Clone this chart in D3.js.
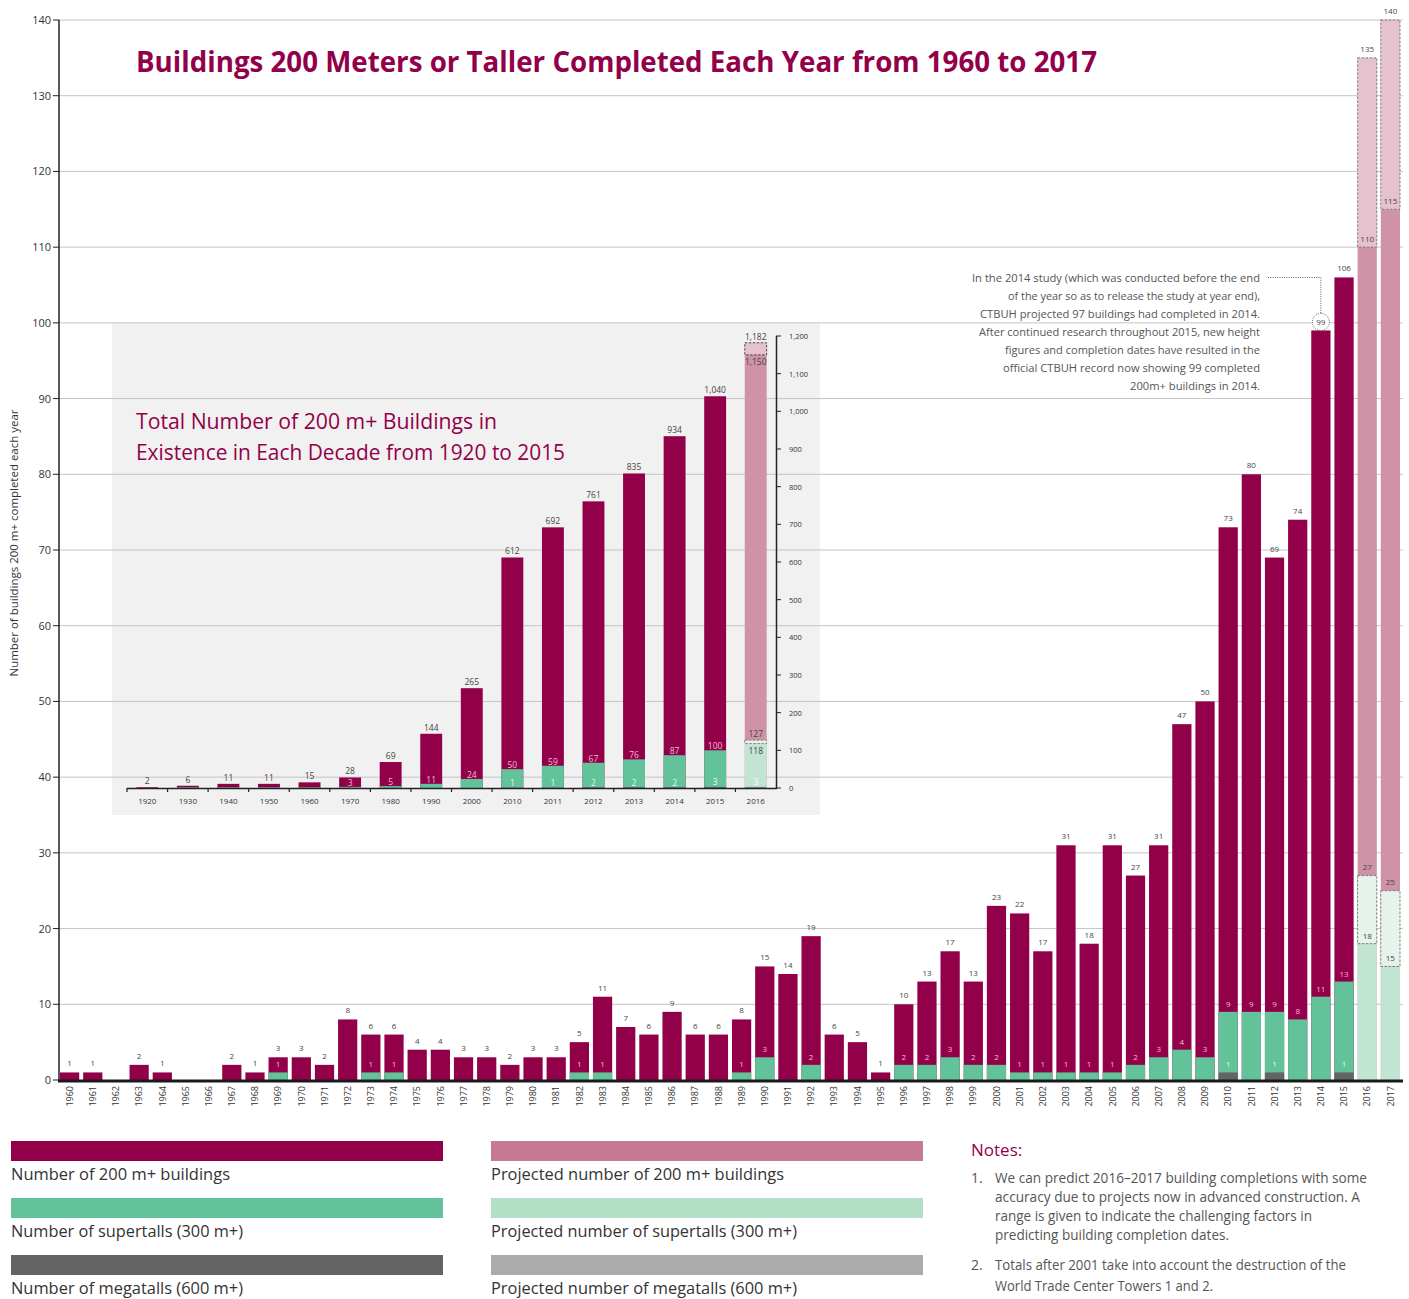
<!DOCTYPE html>
<html><head><meta charset="utf-8">
<script src="https://cdn.jsdelivr.net/npm/d3@7"></script>
<style>body{margin:0;background:#fff;} svg{display:block;font-family:"Open Sans",sans-serif;}</style>
</head><body>
<svg id="c" width="1409" height="1299"></svg>
<script>
// ---------- DATA ----------
const years = [1960,1961,1962,1963,1964,1965,1966,1967,1968,1969,1970,1971,1972,1973,1974,1975,1976,1977,1978,1979,
  1980,1981,1982,1983,1984,1985,1986,1987,1988,1989,1990,1991,1992,1993,1994,1995,1996,1997,1998,1999,
  2000,2001,2002,2003,2004,2005,2006,2007,2008,2009,2010,2011,2012,2013,2014,2015,2016,2017];
const totals = [1,1,0,2,1,0,0,2,1,3,3,2,8,6,6,4,4,3,3,2,
  3,3,5,11,7,6,9,6,6,8,15,14,19,6,5,1,10,13,17,13,
  23,22,17,31,18,31,27,31,47,50,73,80,69,74,99,106];
const supertalls = [0,0,0,0,0,0,0,0,0,1,0,0,0,1,1,0,0,0,0,0,
  0,0,1,1,0,0,0,0,0,1,3,0,2,0,0,0,2,2,3,2,
  2,1,1,1,1,1,2,3,4,3,9,9,9,8,11,13];
const megatalls = [0,0,0,0,0,0,0,0,0,0,0,0,0,0,0,0,0,0,0,0,
  0,0,0,0,0,0,0,0,0,0,0,0,0,0,0,0,0,0,0,0,
  0,0,0,0,0,0,0,0,0,0,1,0,1,0,0,1];
const projYears = [2016, 2017];
const projLow = [110, 115];
const projHigh = [135, 140];
const projSuperLow = [18, 15];
const projSuperHigh = [27, 25];
const yTicks = [0,10,20,30,40,50,60,70,80,90,100,110,120,130,140];

const decades = ["1920","1930","1940","1950","1960","1970","1980","1990","2000","2010","2011","2012","2013","2014","2015","2016"];
const decadeTotals = [2,6,11,11,15,28,69,144,265,612,692,761,835,934,1040,1150];
const decadeSuper = [0,2,2,2,2,3,5,11,24,50,59,67,76,87,100,118];
const decadeMega = [0,0,0,0,0,0,0,0,0,1,1,2,2,2,3,3];
const decadeSuperLabel = [false,false,false,false,false,true,true,true,true,true,true,true,true,true,true,true];
const insetProjHigh = 1182;
const insetProjSuperHigh = 127;
const insetTicks = [0,100,200,300,400,500,600,700,800,900,1000,1100,1200];

const legendItems = [
  ["Number of 200 m+ buildings", "#93004a", 219],
  ["Number of supertalls (300 m+)", "#62c39a", 232],
  ["Number of megatalls (600 m+)", "#636466", 232],
  ["Projected number of 200 m+ buildings", "#c77b92", 293],
  ["Projected number of supertalls (300 m+)", "#b3dfc7", 306],
  ["Projected number of megatalls (600 m+)", "#ababab", 306]
];
const noteLines = [
  ["1.", "We can predict 2016\u20132017 building completions with some", 372, 1183],
  ["", "accuracy due to projects now in advanced construction.  A", 365, 1202],
  ["", "range is given to indicate the challenging factors in", 317, 1221],
  ["", "predicting building completion dates.", 234, 1240],
  ["2.", "Totals after 2001 take into account the destruction of the", 351, 1270],
  ["", "World Trade Center Towers 1 and 2.", 218, 1291]
];
const annotLines = [
  ["In the 2014 study (which was conducted before the end", 288],
  ["of the year so as to release the study at year end),", 252],
  ["CTBUH projected 97 buildings had completed in 2014.", 280],
  ["After continued research throughout 2015, new height", 281],
  ["figures and completion dates have resulted in the", 255],
  ["official CTBUH record now showing 99 completed", 257],
  ["200m+ buildings in 2014.", 130]
];

// ---------- COLOURS ----------
const PURPLE = "#93004a", GREEN = "#62c39a", MEGA = "#636466";
const PINK = "#d092a6", PINK_BOX = "#e5c2cd", LGREEN = "#c2e5d3", LGREEN_BOX = "#e6f3eb";
const LBL = "#444";

const svg = d3.select("#c");

// ---------- SCALES ----------
const x = d3.scaleBand().domain(years).range([60, 1400]).paddingInner(0.17).paddingOuter(0);
const y = d3.scaleLinear().domain([0, 140]).range([1080, 20]);
const bw = x.bandwidth();

const xi = d3.scaleBand().domain(decades).range([127, 776]).paddingInner(0.46).paddingOuter(0.23);
const yi = d3.scaleLinear().domain([0, 1200]).range([788, 336]);
const bwi = xi.bandwidth();

// ---------- INSET BACKGROUND ----------
svg.append("rect").attr("x", 112).attr("y", 323).attr("width", 708).attr("height", 492).attr("fill", "#f1f1f1");

// ---------- GRIDLINES ----------
svg.append("g").selectAll("line").data(yTicks.filter(d => d > 0)).join("line")
  .attr("x1", 59).attr("x2", 1403).attr("y1", d => y(d)).attr("y2", d => y(d))
  .attr("stroke", "#c4c4c4").attr("stroke-width", 1);

// ---------- TITLE ----------
svg.append("text").attr("x", 136).attr("y", 72).attr("fill", PURPLE)
  .attr("font-size", 29).attr("font-weight", 700)
  .attr("textLength", 961).attr("lengthAdjust", "spacingAndGlyphs")
  .text("Buildings 200 Meters or Taller Completed Each Year from 1960 to 2017");

// ---------- MAIN BARS ----------
const actual = years.slice(0, totals.length).map((yr, i) => ({yr, t: totals[i], s: supertalls[i], m: megatalls[i]}));
const gMain = svg.append("g");
gMain.selectAll(".tot").data(actual.filter(d => d.t > 0)).join("rect")
  .attr("x", d => x(d.yr)).attr("width", bw)
  .attr("y", d => y(d.t)).attr("height", d => y(0) - y(d.t)).attr("fill", PURPLE);
gMain.selectAll(".sup").data(actual.filter(d => d.s > 0)).join("rect")
  .attr("x", d => x(d.yr)).attr("width", bw)
  .attr("y", d => y(d.s)).attr("height", d => y(0) - y(d.s)).attr("fill", GREEN);
gMain.selectAll(".meg").data(actual.filter(d => d.m > 0)).join("rect")
  .attr("x", d => x(d.yr)).attr("width", bw)
  .attr("y", d => y(d.m)).attr("height", d => y(0) - y(d.m)).attr("fill", MEGA);

// projected
const proj = projYears.map((yr, i) => ({yr, lo: projLow[i], hi: projHigh[i], slo: projSuperLow[i], shi: projSuperHigh[i]}));
proj.forEach(d => {
  const x0 = x(d.yr);
  gMain.append("rect").attr("x", x0).attr("width", bw).attr("y", y(d.lo)).attr("height", y(0) - y(d.lo)).attr("fill", PINK);
  gMain.append("rect").attr("x", x0).attr("width", bw).attr("y", y(d.hi)).attr("height", y(d.lo) - y(d.hi))
    .attr("fill", PINK_BOX).attr("stroke", "#666").attr("stroke-width", 0.8).attr("stroke-dasharray", "2.5,1.5");
  gMain.append("rect").attr("x", x0).attr("width", bw).attr("y", y(d.slo)).attr("height", y(0) - y(d.slo)).attr("fill", LGREEN);
  gMain.append("rect").attr("x", x0).attr("width", bw).attr("y", y(d.shi)).attr("height", y(d.slo) - y(d.shi))
    .attr("fill", LGREEN_BOX).attr("stroke", "#666").attr("stroke-width", 0.8).attr("stroke-dasharray", "2.5,1.5");
});

// labels
const lbl = svg.append("g").attr("font-size", 8).attr("text-anchor", "middle");
actual.filter(d => d.t > 0).forEach(d => {
  const cx = x(d.yr) + bw / 2;
  lbl.append("text").attr("x", cx).attr("y", y(d.t) - 6).attr("fill", LBL).text(d.t);
  if (d.s > 0) lbl.append("text").attr("x", cx).attr("y", y(d.s) - 5).attr("fill", "#f3b9d3").text(d.s);
  if (d.m > 0) lbl.append("text").attr("x", cx).attr("y", y(d.m) - 5).attr("fill", "#e6f5ee").text(d.m);
});
proj.forEach(d => {
  const cx = x(d.yr) + bw / 2;
  lbl.append("text").attr("x", cx).attr("y", y(d.hi) - 6).attr("fill", LBL).text(d.hi);
  lbl.append("text").attr("x", cx).attr("y", y(d.lo) - 5).attr("fill", LBL).text(d.lo);
  lbl.append("text").attr("x", cx).attr("y", y(d.shi) - 6).attr("fill", LBL).text(d.shi);
  lbl.append("text").attr("x", cx).attr("y", y(d.slo) - 5).attr("fill", LBL).text(d.slo);
});

// annotation circle for 2014
{
  const i14 = years.indexOf(2014);
  const cx = x(2014) + bw / 2, cy = y(totals[i14]) - 8.5;
  svg.append("circle").attr("cx", cx).attr("cy", cy).attr("r", 8.5).attr("fill", "#fff")
    .attr("stroke", "#333").attr("stroke-width", 0.8).attr("stroke-dasharray", "1,1.3");
  svg.append("text").attr("x", cx).attr("y", cy + 3).attr("text-anchor", "middle").attr("font-size", 8).attr("fill", LBL).text(totals[i14]);
  svg.append("path").attr("d", `M1268,277.5H${cx}V${cy - 8.5}`).attr("fill", "none")
    .attr("stroke", "#333").attr("stroke-width", 0.8).attr("stroke-dasharray", "1,1.3");
}

// annotation text
svg.append("g").attr("font-size", 11).attr("fill", "#555").attr("text-anchor", "end")
  .selectAll("text").data(annotLines).join("text")
  .attr("x", 1260).attr("y", (d, i) => 282 + i * 18)
  .attr("textLength", d => d[1]).attr("lengthAdjust", "spacingAndGlyphs").text(d => d[0]);

// ---------- MAIN AXES ----------
const yAxis = svg.append("g");
yAxis.append("line").attr("x1", 59).attr("x2", 59).attr("y1", 20).attr("y2", 1081).attr("stroke", "#222").attr("stroke-width", 1.5);
yAxis.selectAll(".tk").data(yTicks).join("line").attr("x1", 53).attr("x2", 59)
  .attr("y1", d => y(d)).attr("y2", d => y(d)).attr("stroke", "#222").attr("stroke-width", 1);
yAxis.selectAll("text").data(yTicks).join("text").attr("x", 51).attr("y", d => y(d) + 4)
  .attr("text-anchor", "end").attr("font-size", 11).attr("fill", "#333").text(d => d);

svg.append("line").attr("x1", 58).attr("x2", 1403).attr("y1", 1081).attr("y2", 1081).attr("stroke", "#1a1a1a").attr("stroke-width", 3);

svg.append("g").attr("font-size", 9).attr("fill", "#333").attr("text-anchor", "end")
  .selectAll("text").data(years).join("text")
  .attr("transform", d => `translate(${x(d) + bw / 2 + 3.2},1086) rotate(-90)`).text(d => d);

svg.append("text").attr("transform", "translate(18,543) rotate(-90)").attr("text-anchor", "middle")
  .attr("font-size", 11).attr("fill", "#333").attr("textLength", 267).attr("lengthAdjust", "spacingAndGlyphs")
  .text("Number of buildings 200 m+ completed each year");

// ---------- INSET ----------
const gi = svg.append("g");
const dec = decades.map((d, i) => ({d, t: decadeTotals[i], s: decadeSuper[i], m: decadeMega[i], sl: decadeSuperLabel[i]}));
const last = decades[decades.length - 1];
dec.forEach(o => {
  const x0 = xi(o.d);
  const isProj = o.d === last;
  gi.append("rect").attr("x", x0).attr("width", bwi).attr("y", yi(o.t)).attr("height", yi(0) - yi(o.t)).attr("fill", isProj ? PINK : PURPLE);
  if (o.s > 0) gi.append("rect").attr("x", x0).attr("width", bwi).attr("y", yi(o.s)).attr("height", yi(0) - yi(o.s)).attr("fill", isProj ? LGREEN : GREEN);
  if (o.m > 0) gi.append("rect").attr("x", x0).attr("width", bwi).attr("y", yi(o.m)).attr("height", yi(0) - yi(o.m)).attr("fill", isProj ? "#8c8c8c" : MEGA);
  if (isProj) {
    gi.append("rect").attr("x", x0).attr("width", bwi).attr("y", yi(insetProjHigh)).attr("height", yi(o.t) - yi(insetProjHigh))
      .attr("fill", PINK_BOX).attr("stroke", "#222").attr("stroke-width", 0.8).attr("stroke-dasharray", "2.5,1.5");
    gi.append("rect").attr("x", x0).attr("width", bwi).attr("y", yi(insetProjSuperHigh)).attr("height", yi(o.s) - yi(insetProjSuperHigh))
      .attr("fill", LGREEN_BOX).attr("stroke", "#777").attr("stroke-width", 0.8).attr("stroke-dasharray", "2.5,1.5");
  }
});
const fmt = d3.format(",");
const gil = svg.append("g").attr("font-size", 8.5).attr("text-anchor", "middle");
dec.forEach(o => {
  const cx = xi(o.d) + bwi / 2;
  const isProj = o.d === last;
  if (isProj) {
    gil.append("text").attr("x", cx).attr("y", yi(insetProjHigh) - 3).attr("fill", LBL).text(fmt(insetProjHigh));
    gil.append("text").attr("x", cx).attr("y", yi(o.t) + 10).attr("fill", LBL).text(fmt(o.t));
    gil.append("text").attr("x", cx).attr("y", yi(insetProjSuperHigh) - 3).attr("fill", LBL).text(insetProjSuperHigh);
    gil.append("text").attr("x", cx).attr("y", yi(o.s) + 10).attr("fill", LBL).text(o.s);
    gil.append("text").attr("x", cx).attr("y", yi(o.m) - 1.5).attr("fill", "#f2f8f5").text(o.m);
  } else {
    gil.append("text").attr("x", cx).attr("y", yi(o.t) - 3).attr("fill", LBL).text(fmt(o.t));
    if (o.sl) gil.append("text").attr("x", cx).attr("y", yi(o.s) - 1).attr("fill", "#f3b9d3").text(o.s);
    if (o.m > 0) gil.append("text").attr("x", cx).attr("y", yi(o.m) - 1.5).attr("fill", "#e6f5ee").text(o.m);
  }
});
// inset x axis
const step = xi.step();
gi.append("line").attr("x1", 127).attr("x2", 777).attr("y1", 788.5).attr("y2", 788.5).attr("stroke", "#222").attr("stroke-width", 1.5);
gi.selectAll(".bt").data(decades).join("line")
  .attr("x1", d => xi(d) - (step - bwi) / 2).attr("x2", d => xi(d) - (step - bwi) / 2)
  .attr("y1", 788).attr("y2", 792).attr("stroke", "#222").attr("stroke-width", 1.2);
gi.append("g").attr("font-size", 8).attr("fill", "#333").attr("text-anchor", "middle")
  .selectAll("text").data(decades).join("text")
  .attr("x", d => xi(d) + bwi / 2).attr("y", 804).text(d => d);
// inset y axis (right)
gi.append("line").attr("x1", 776.5).attr("x2", 776.5).attr("y1", 336).attr("y2", 789).attr("stroke", "#222").attr("stroke-width", 1.5);
gi.selectAll(".it").data(insetTicks).join("line").attr("x1", 776).attr("x2", 781)
  .attr("y1", d => yi(d)).attr("y2", d => yi(d)).attr("stroke", "#222").attr("stroke-width", 1);
gi.append("g").attr("font-size", 7.5).attr("fill", "#333")
  .selectAll("text").data(insetTicks).join("text")
  .attr("x", 789).attr("y", d => yi(d) + 3).text(d => fmt(d));
// inset title
svg.append("text").attr("x", 136).attr("y", 429).attr("font-size", 22).attr("fill", PURPLE)
  .attr("textLength", 361).attr("lengthAdjust", "spacingAndGlyphs").text("Total Number of 200 m+ Buildings  in");
svg.append("text").attr("x", 136).attr("y", 460).attr("font-size", 22).attr("fill", PURPLE)
  .attr("textLength", 429).attr("lengthAdjust", "spacingAndGlyphs").text("Existence in Each Decade from 1920 to 2015");

// ---------- LEGEND ----------
const lg = svg.append("g");
legendItems.forEach((it, i) => {
  const col = Math.floor(i / 3), row = i % 3;
  const lx = col === 0 ? 11 : 491;
  const ly = 1141 + row * 57;
  lg.append("rect").attr("x", lx).attr("y", ly).attr("width", 432).attr("height", 20).attr("fill", it[1]);
  lg.append("text").attr("x", lx).attr("y", ly + 39).attr("font-size", 17).attr("fill", "#333")
    .attr("textLength", it[2]).attr("lengthAdjust", "spacingAndGlyphs").text(it[0]);
});

// ---------- NOTES ----------
svg.append("text").attr("x", 971).attr("y", 1156).attr("font-size", 17).attr("fill", PURPLE).text("Notes:");
const ng = svg.append("g").attr("font-size", 14).attr("fill", "#555");
noteLines.forEach(n => {
  if (n[0]) ng.append("text").attr("x", 971).attr("y", n[3]).text(n[0]);
  ng.append("text").attr("x", 995).attr("y", n[3]).attr("textLength", n[2]).attr("lengthAdjust", "spacingAndGlyphs").text(n[1]);
});
</script>
</body></html>
